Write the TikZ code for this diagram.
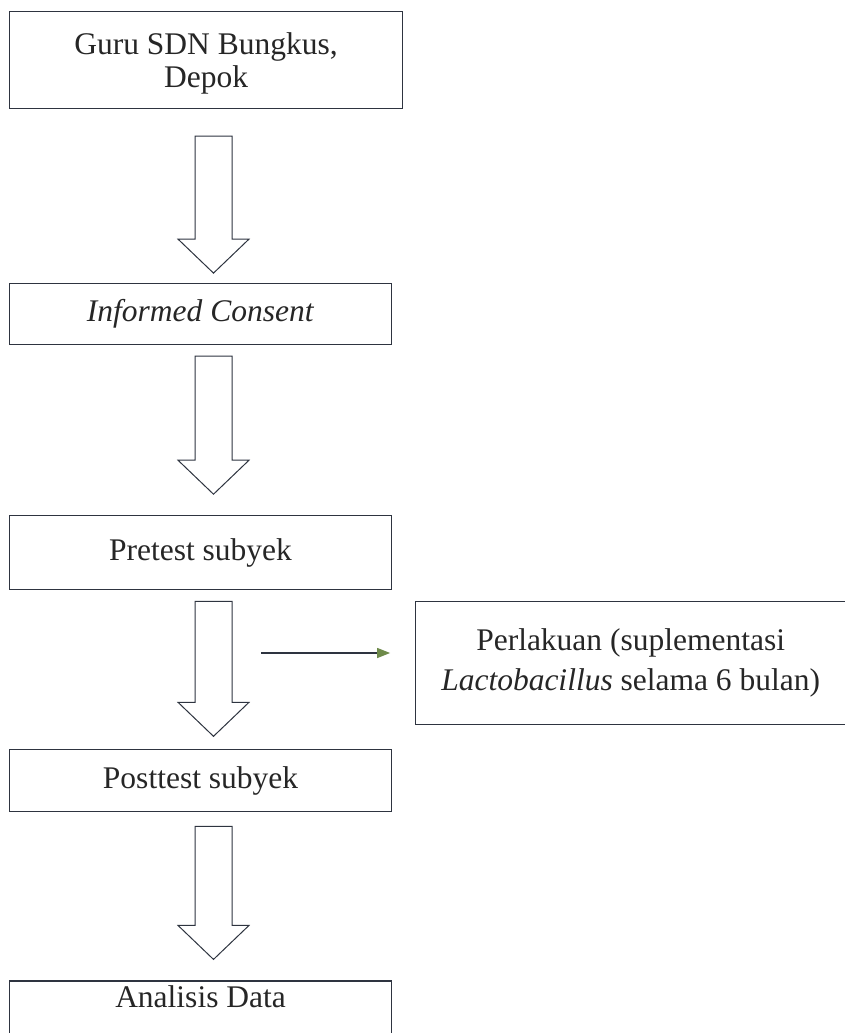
\documentclass[tikz,border=0pt]{standalone}
\usepackage{fontspec}
\setmainfont{Liberation Serif}
\usetikzlibrary{arrows.meta,positioning,calc}

\definecolor{inkline}{HTML}{2E3440}
\definecolor{tipgreen}{HTML}{6E8A4A}

% hollow block arrow between two boxes: from, to, gap below from, gap above to
\newcommand{\flowarrow}[4]{%
  \draw[blk] let \p1=($(#1.south)+(0,-#3)$), \p2=($(#2.north)+(0,#4)$) in
    (195pt,\y1) -- (232pt,\y1) -- (232pt,\y2+34pt) -- (249pt,\y2+34pt)
    -- (213.5pt,\y2) -- (178pt,\y2+34pt) -- (195pt,\y2+34pt) -- cycle;}

\begin{document}
\begin{tikzpicture}[
  x=1pt, y=1pt,
  box/.style={draw=inkline, line width=1.1pt, text=black!85, minimum width=382pt,
              inner sep=4pt, align=center, font=\fontsize{31.5}{40}\selectfont},
  blk/.style={draw=inkline, line width=1pt, fill=white, line join=miter},
  arr/.style={draw=inkline, line width=1.2pt, -{Triangle[length=13pt,width=10pt,color=tipgreen]}}
]
\useasboundingbox (0,0) rectangle (845,-1033);

\node[box, minimum width=393pt, minimum height=97pt, anchor=north west, text depth=0pt,
      font=\fontsize{31.5}{33}\selectfont] (guru) at (9,-11) {Guru SDN Bungkus,\\Depok};
\node[box, minimum height=61pt, below=174pt of guru.south west, anchor=north west] (consent) {\textit{Informed Consent}};
\node[box, minimum height=74pt, below=170pt of consent.south west, anchor=north west] (pretest) {Pretest subyek};
\node[box, minimum width=430pt, minimum height=123pt, below right=11pt and 23pt of pretest] (perlakuan)
  {Perlakuan (suplementasi\\\textit{Lactobacillus} selama 6 bulan)};
\node[box, minimum height=62pt, below=159pt of pretest.south west, anchor=north west] (posttest) {Posttest subyek};
\node[box, text height=23pt, text depth=50pt, inner ysep=4pt,
      below=168pt of posttest.south west, anchor=north west] (analisis) {Analisis Data};

\flowarrow{guru}{consent}{27}{10}
\flowarrow{consent}{pretest}{11}{21}
\flowarrow{pretest}{posttest}{11}{13}
\flowarrow{posttest}{analisis}{14}{21}

\coordinate (lajur) at (261,-653);
\draw[arr, shorten >=25pt] (lajur) -- (lajur -| perlakuan.west);
\end{tikzpicture}
\end{document}
